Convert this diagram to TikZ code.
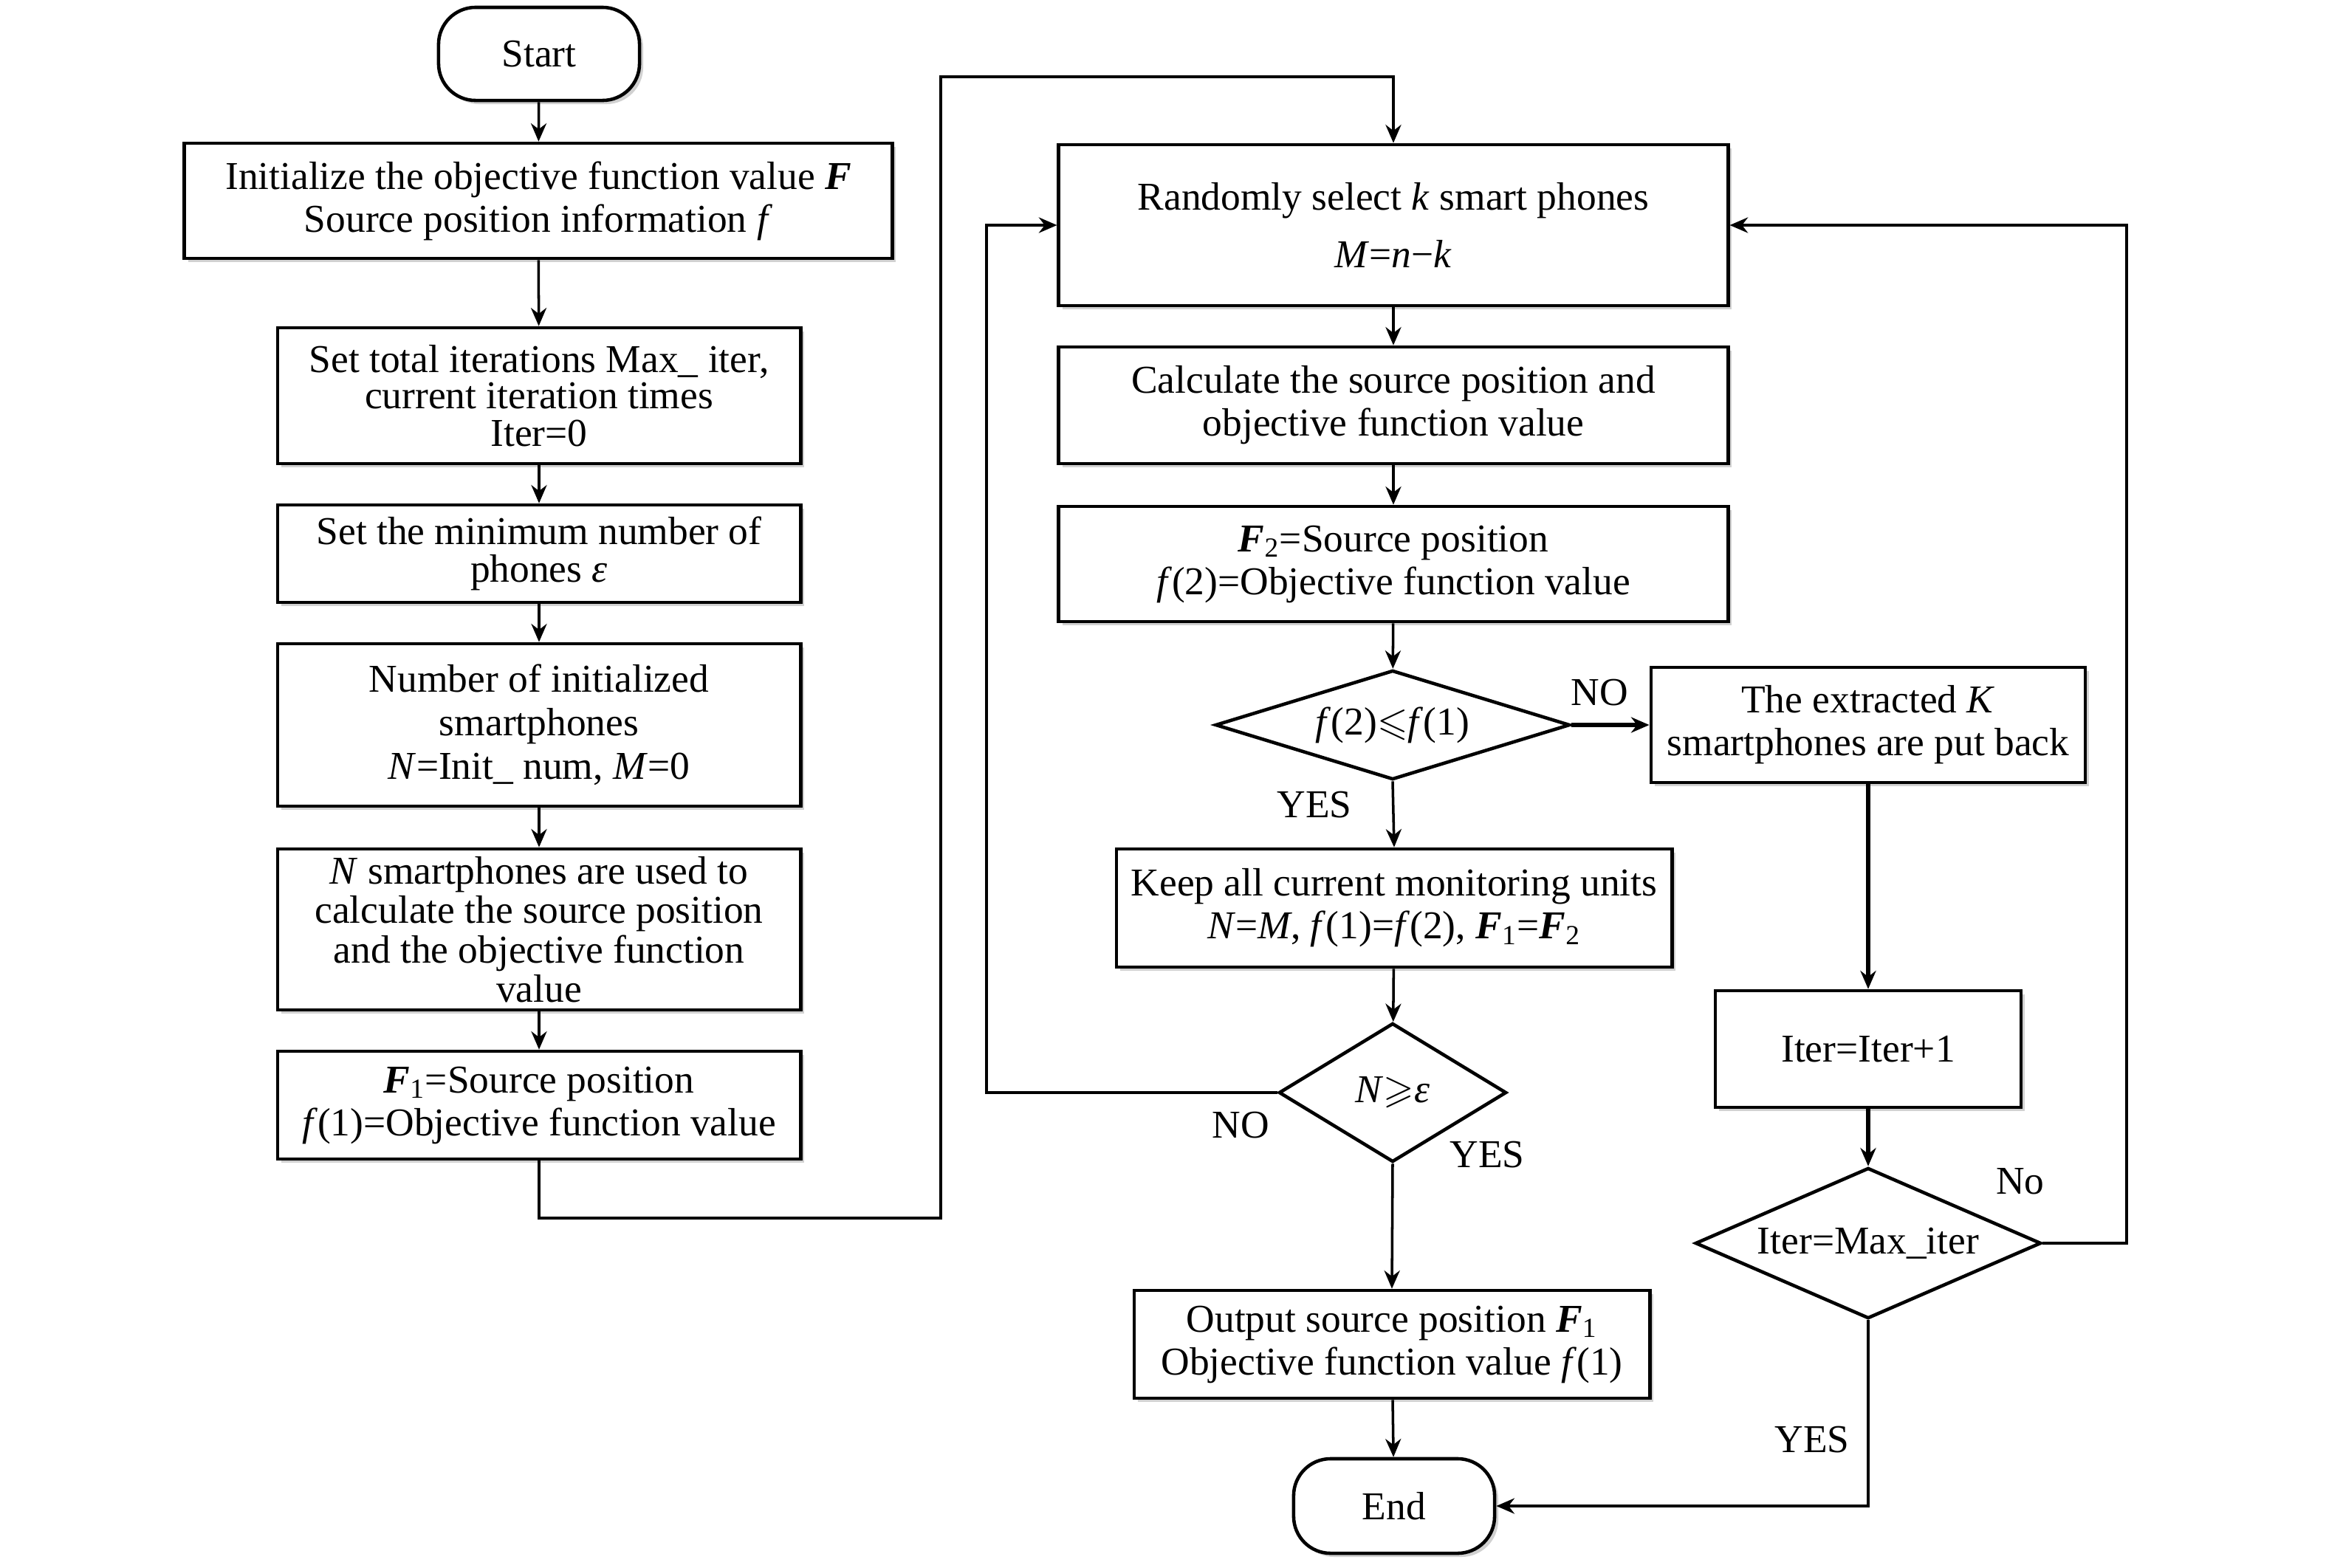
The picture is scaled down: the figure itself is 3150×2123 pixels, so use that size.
\documentclass[tikz,border=0pt]{standalone}
\usepackage{amssymb}
\usepackage{fontspec}
\setmainfont{Liberation Serif}
\usetikzlibrary{shapes.geometric,arrows.meta,shadows}
\newcommand{\bF}{\textbf{\textit{F}}}
\begin{document}
\begin{tikzpicture}[x=0.01cm,y=-0.01cm,
  font=\fontsize{15.2}{16.5}\selectfont,
  box/.style={draw, line width=1.3pt, rectangle, align=center, inner sep=1pt, fill=white,
    drop shadow={shadow xshift=0.05cm, shadow yshift=-0.05cm, fill=black!30, opacity=0.6}},
  term/.style={box, rounded corners=0.5cm},
  dec/.style={draw, line width=1.3pt, diamond, inner sep=0pt, align=center, fill=white},
  arr/.style={line width=1pt, -{Stealth[length=7pt,width=6pt]}},
  thickarr/.style={arr, line width=1.7pt},
  lbl/.style={inner sep=0pt}]
\useasboundingbox (0,0) rectangle (3150,2123);

% left column
\node[term, minimum width=2.72cm, minimum height=1.26cm] (start) at (730,73) {Start};
\node[box, minimum width=9.58cm, minimum height=1.56cm] (init) at (729,272)
  {Initialize the objective function value \bF\\Source position information \textit{f}};
\node[box, minimum width=7.08cm, minimum height=1.84cm] (set1) at (730,536)
  {Set total iterations Max\_ iter,\\[-2.5pt]current iteration times\\[-2pt]Iter=0};
\node[box, minimum width=7.08cm, minimum height=1.32cm] (set2) at (730,750)
  {Set the minimum number of\\[-1.8pt]phones \textit{ε}};
\node[box, minimum width=7.08cm, minimum height=2.2cm] (num) at (730,982)
  {Number of initialized\\[0.3pt]smartphones\\[0.3pt]\textit{N}=Init\_ num, \textit{M}=0};
\node[box, inner sep=0pt, minimum width=7.08cm, minimum height=2.18cm] (nsm) at (730,1259)
  {\textit{N} smartphones are used to\\[-1.2pt]calculate the source position\\[-1.2pt]and the objective function\\[-1.5pt]value};
\node[box, minimum width=7.08cm, minimum height=1.46cm] (f1) at (730,1497)
  {\bF\textsubscript{1}=Source position\\\textit{f}(1)=Objective function value};

% middle column
\node[box, minimum width=9.06cm, minimum height=2.18cm] (rand) at (1887,305)
  {Randomly select \textit{k} smart phones\\[5.5pt]\textit{M}=\textit{n}−\textit{k}};
\node[box, minimum width=9.06cm, minimum height=1.58cm] (calc) at (1887,549)
  {Calculate the source position and\\objective function value};
\node[box, minimum width=9.06cm, minimum height=1.56cm] (f2) at (1887,764)
  {\bF\textsubscript{2}=Source position\\\textit{f}(2)=Objective function value};
\node[dec, minimum width=4.8cm, minimum height=1.48cm, aspect=3.24] (d1) at (1886,982)
  {\textit{f}(2)$\leqslant$\textit{f}(1)};
\node[box, minimum width=7.52cm, minimum height=1.6cm] (keep) at (1888,1230)
  {Keep all current monitoring units\\\textit{N}=\textit{M}, \textit{f}(1)=\textit{f}(2), \bF\textsubscript{1}=\bF\textsubscript{2}};
\node[dec, minimum width=3.08cm, minimum height=1.88cm, aspect=1.64] (d2) at (1886,1480)
  {\textit{N}$\geqslant$\textit{ε}};
\node[box, minimum width=6.98cm, minimum height=1.46cm] (out) at (1885,1821)
  {Output source position \bF\textsubscript{1}\\Objective function value \textit{f}(1)};
\node[term, minimum width=2.72cm, minimum height=1.28cm] (end) at (1888,2040) {End};

% right column
\node[box, minimum width=5.88cm, minimum height=1.56cm] (ext) at (2530,982)
  {The extracted \textit{K}\\smartphones are put back};
\node[box, minimum width=4.14cm, minimum height=1.58cm] (iter) at (2530,1421) {Iter=Iter+1};
\node[dec, minimum width=4.68cm, minimum height=2.04cm, aspect=2.3] (d3) at (2530,1684)
  {Iter=Max\_iter};

% labels
\node[lbl] (lno1) at (2166,938) {NO};
\node[lbl] (lyes1) at (1780,1090) {YES};
\node[lbl] (lno2) at (1680,1524) {NO};
\node[lbl] (lyes2) at (2014,1564) {YES};
\node[lbl] (lno3) at (2736,1600) {No};
\node[lbl] (lyes3) at (2454,1950) {YES};

% helper coordinates
\coordinate (c1) at (1274,1650);
\coordinate (c2) at (1274,104);
\coordinate (c3) at (1336,1480);
\coordinate (c4) at (2880,1684);

% connectors
\draw[arr] (start) -- (init);
\draw[arr] (init) -- (set1);
\draw[arr] (set1) -- (set2);
\draw[arr] (set2) -- (num);
\draw[arr] (num) -- (nsm);
\draw[arr] (nsm) -- (f1);
\draw[arr] (f1.south) |- (c1) -- (c2) -| (rand.north);
\draw[arr] (rand) -- (calc);
\draw[arr] (calc) -- (f2);
\draw[arr] (f2) -- (d1);
\draw[thickarr] (d1.east) -- (ext.west);
\draw[arr] (d1.south) -- (keep.north);
\draw[arr] (keep) -- (d2);
\draw[arr] (d2.west) -- (c3) |- (rand.west);
\draw[arr] (d2.south) -- (out.north);
\draw[arr] (out) -- (end);
\draw[thickarr] (ext) -- (iter);
\draw[thickarr] (iter) -- (d3);
\draw[arr] (d3.east) -- (c4) |- (rand.east);
\draw[arr] (d3.south) |- (end.east);
\end{tikzpicture}
\end{document}
